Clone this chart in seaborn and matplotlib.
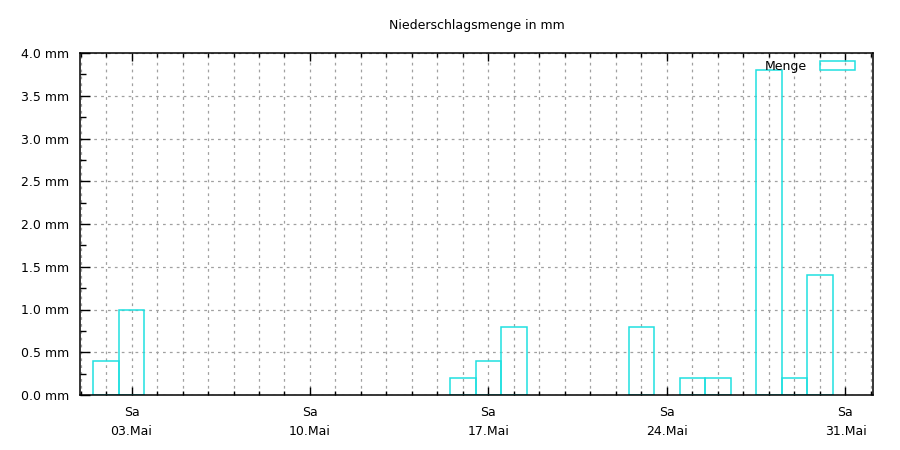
import matplotlib
matplotlib.use('Agg')
import matplotlib.pyplot as plt
import seaborn as sns
from matplotlib.patches import Patch
from matplotlib.ticker import MultipleLocator, FixedLocator

# Daily precipitation, May (day of month -> mm); days not listed had 0 mm
days = [2, 3, 16, 17, 18, 23, 25, 26, 28, 29, 30]
menge = [0.4, 1.0, 0.2, 0.4, 0.8, 0.8, 0.2, 0.2, 3.8, 0.2, 1.4]

tick_days = [3, 10, 17, 24, 31]
tick_labels = ['Sa\n03.Mai', 'Sa\n10.Mai', 'Sa\n17.Mai', 'Sa\n24.Mai', 'Sa\n31.Mai']

bar_color = '#20e0e0'

sns.set_style('white')
plt.rcParams['font.family'] = ['DejaVu Sans']
plt.rcParams['text.color'] = 'black'
plt.rcParams['xtick.color'] = 'black'
plt.rcParams['ytick.color'] = 'black'

fig = plt.figure(figsize=(9, 4.5), dpi=100)
ax = fig.add_axes([80 / 900, 55 / 450, 793 / 900, 342 / 450])

sns.barplot(x=days, y=menge, native_scale=True, width=1, fill=False,
            color=bar_color, linewidth=1.1, errorbar=None, ax=ax)
for p in ax.patches:
    p.set_edgecolor(bar_color)
    p.set_facecolor('none')

ax.set_xlim(0.98, 32.08)
ax.set_ylim(0, 4.0)

# ticks
ax.xaxis.set_major_locator(FixedLocator(tick_days))
ax.xaxis.set_minor_locator(MultipleLocator(1))
ax.set_xticklabels(tick_labels, fontsize=9, linespacing=1.6)
ax.set_yticks([i * 0.5 for i in range(9)])
ax.set_yticklabels(['%.1f mm' % (i * 0.5) for i in range(9)], fontsize=9)
ax.yaxis.set_minor_locator(MultipleLocator(0.25))

ax.tick_params(axis='x', which='both', direction='in', top=True, bottom=True,
               color='black', width=1.0, labelcolor='black')
ax.tick_params(axis='x', which='major', length=6, pad=8)
ax.tick_params(axis='x', which='minor', length=3)
ax.tick_params(axis='y', which='both', direction='in', left=True, right=False,
               color='black', width=1.0, labelcolor='black')
ax.tick_params(axis='y', which='major', length=7, pad=8)
ax.tick_params(axis='y', which='minor', length=4)

# grid
grid_style = dict(color='#a0a0a0', linewidth=0.9, linestyle=(0, (2.2, 3.3)))
ax.grid(which='major', axis='y', **grid_style)
ax.grid(which='both', axis='x', **grid_style)
ax.set_axisbelow(True)

for s in ax.spines.values():
    s.set_color('black')
    s.set_linewidth(1.1)

ax.set_xlabel('')
ax.set_ylabel('')
ax.set_title('Niederschlagsmenge in mm', fontsize=9, pad=17, color='black')

handle = Patch(facecolor='none', edgecolor=bar_color, linewidth=1.1)
ax.legend([handle], ['Menge'], loc='upper right', bbox_to_anchor=(0.977, 0.98),
          frameon=False, markerfirst=False, fontsize=9, handlelength=2.8,
          handleheight=0.7, handletextpad=1.0, borderpad=0, borderaxespad=0)

fig.savefig('out.png', dpi=100)
